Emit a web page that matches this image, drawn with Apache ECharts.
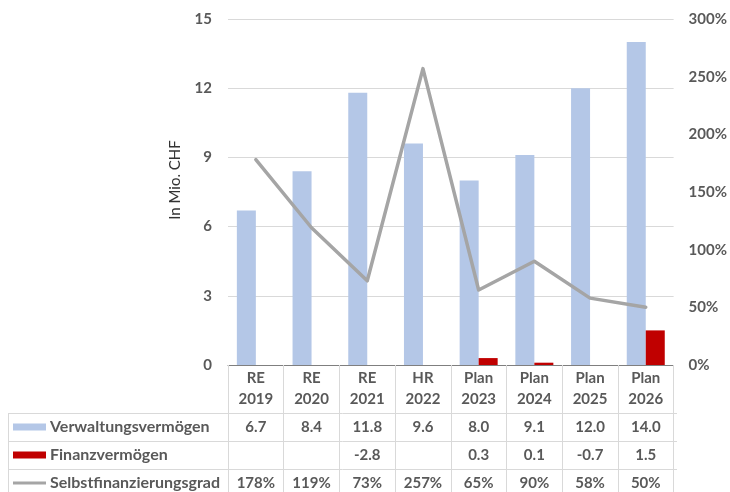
<!DOCTYPE html>
<html>
<head>
<meta charset="utf-8">
<script src="https://cdn.jsdelivr.net/npm/echarts@6/dist/echarts.min.js"></script>
<style>
  html, body { margin: 0; padding: 0; background: #fff; }
  #chart { width: 730px; height: 492px; }
</style>
</head>
<body>
<div id="chart"></div>
<script>
// Kategorien (Rechnung, Hochrechnung, Plan)
const categories = ['RE 2019', 'RE 2020', 'RE 2021', 'HR 2022', 'Plan 2023', 'Plan 2024', 'Plan 2025', 'Plan 2026'];

// Investitionen in Mio. CHF
const verwaltungsvermoegen = [6.7, 8.4, 11.8, 9.6, 8.0, 9.1, 12.0, 14.0];
const finanzvermoegen = [null, null, -2.8, null, 0.3, 0.1, -0.7, 1.5];

// Selbstfinanzierungsgrad (Anteil, 1 = 100 %)
const selbstfinanzierungsgrad = [1.78, 1.19, 0.73, 2.57, 0.65, 0.90, 0.58, 0.50];

// Achsenteilung
const leftTicks = [0, 3, 6, 9, 12, 15];
const rightTicks = [0, 0.5, 1, 1.5, 2, 2.5, 3];

const seriesNames = ['Verwaltungsvermögen', 'Finanzvermögen', 'Selbstfinanzierungsgrad'];

// Layout
const W = 730, H = 492;
const PLOT = { left: 228, right: 677, top: 19, bottom: 365 };
const TABLE_LEFT = 8;
const ROW_LINES = [413, 441, 469, 497];
const FONT = 'Lato, "Open Sans", sans-serif';
const TEXT = '#595959';
const BORDER = '#D9D9D9';

const fmt1 = v => (v === null || v === undefined) ? '' : v.toFixed(1);
const fmtPct = v => (v === null || v === undefined) ? '' : Math.round(v * 100) + '%';

const rowValues = [
  verwaltungsvermoegen.map(fmt1),
  finanzvermoegen.map(fmt1),
  selbstfinanzierungsgrad.map(fmtPct)
];

const labelStyle = { fontFamily: FONT, fontSize: 15, fontWeight: 'bold', color: TEXT };

// Datentabelle unter der Kategorienachse: je eine Achse pro Zeile
const tableAxes = rowValues.map((vals, r) => ({
  type: 'category',
  data: categories,
  position: 'bottom',
  gridIndex: 0,
  axisLine: { show: false },
  axisTick: { show: false },
  splitLine: { show: false },
  axisLabel: Object.assign({}, labelStyle, {
    interval: 0,
    verticalAlign: 'middle',
    margin: (ROW_LINES[r] + ROW_LINES[r + 1]) / 2 - PLOT.bottom,
    formatter: (v, i) => vals[i]
  })
}));

// Tabellenraster links (Legendenspalte) und horizontale Linien
const gridLines = [];
for (let r = 0; r < 3; r++) {
  gridLines.push({
    type: 'line', silent: true,
    shape: { x1: TABLE_LEFT, y1: ROW_LINES[r] + 0.5, x2: PLOT.right, y2: ROW_LINES[r] + 0.5 },
    style: { stroke: BORDER, lineWidth: 1 }
  });
}
gridLines.push({
  type: 'line', silent: true,
  shape: { x1: TABLE_LEFT + 0.5, y1: ROW_LINES[0], x2: TABLE_LEFT + 0.5, y2: H },
  style: { stroke: BORDER, lineWidth: 1 }
});

// Eine Legende pro Tabellenzeile
const legends = seriesNames.map((name, r) => ({
  orient: 'horizontal',
  left: 13,
  top: (ROW_LINES[r] + ROW_LINES[r + 1]) / 2 - 10,
  padding: 0,
  itemWidth: 33,
  itemHeight: r < 2 ? 7 : 3,
  itemGap: 0,
  selectedMode: false,
  textStyle: Object.assign({}, labelStyle, { fontSize: 16, lineHeight: 20, padding: [0, 0, 0, -1] }),
  data: [{ name: name, icon: 'rect' }]
}));

const chart = echarts.init(document.getElementById('chart'), null, { renderer: 'canvas' });

chart.setOption({
  animation: false,
  backgroundColor: '#ffffff',
  grid: {
    left: PLOT.left,
    right: W - PLOT.right,
    top: PLOT.top,
    bottom: H - PLOT.bottom,
    containLabel: false
  },
  legend: legends,
  xAxis: [
    {
      type: 'category',
      data: categories,
      position: 'bottom',
      boundaryGap: true,
      axisLine: { show: true, lineStyle: { color: '#7F7F7F', width: 1 } },
      axisTick: { show: true, alignWithLabel: false, length: H - PLOT.bottom, lineStyle: { color: BORDER, width: 1 } },
      splitLine: { show: false },
      axisLabel: Object.assign({}, labelStyle, {
        interval: 0,
        verticalAlign: 'middle',
        lineHeight: 21,
        margin: (PLOT.bottom + ROW_LINES[0]) / 2 - PLOT.bottom,
        formatter: v => v.replace(' ', '\n')
      })
    }
  ].concat(tableAxes),
  yAxis: [
    {
      type: 'value',
      min: leftTicks[0],
      max: leftTicks[leftTicks.length - 1],
      interval: leftTicks[1] - leftTicks[0],
      name: 'In Mio. CHF',
      nameLocation: 'middle',
      nameGap: 45,
      nameTextStyle: { fontFamily: FONT, fontSize: 15, color: '#333333', padding: [0, 0, 0, 24] },
      axisLine: { show: false },
      axisTick: { show: false },
      splitLine: { show: true, lineStyle: { color: BORDER, width: 1 } },
      axisLabel: Object.assign({}, labelStyle, { margin: 16 })
    },
    {
      type: 'value',
      position: 'right',
      min: rightTicks[0],
      max: rightTicks[rightTicks.length - 1],
      interval: rightTicks[1] - rightTicks[0],
      axisLine: { show: false },
      axisTick: { show: false },
      splitLine: { show: false },
      axisLabel: Object.assign({}, labelStyle, { margin: 15, formatter: v => Math.round(v * 100) + '%' })
    }
  ],
  series: [
    {
      name: seriesNames[0],
      type: 'bar',
      xAxisIndex: 0,
      yAxisIndex: 0,
      data: verwaltungsvermoegen,
      barWidth: 19,
      barGap: '0%',
      clip: true,
      itemStyle: { color: '#B4C7E7' }
    },
    {
      name: seriesNames[1],
      type: 'bar',
      xAxisIndex: 0,
      yAxisIndex: 0,
      data: finanzvermoegen,
      barWidth: 19,
      barGap: '0%',
      clip: true,
      itemStyle: { color: '#C00000' }
    },
    {
      name: seriesNames[2],
      type: 'line',
      xAxisIndex: 0,
      yAxisIndex: 1,
      data: selbstfinanzierungsgrad,
      symbol: 'none',
      z: 5,
      lineStyle: { color: '#A5A5A5', width: 3.5, join: 'round', cap: 'round' },
      itemStyle: { color: '#A5A5A5' }
    }
  ],
  graphic: gridLines
});
</script>
</body>
</html>
